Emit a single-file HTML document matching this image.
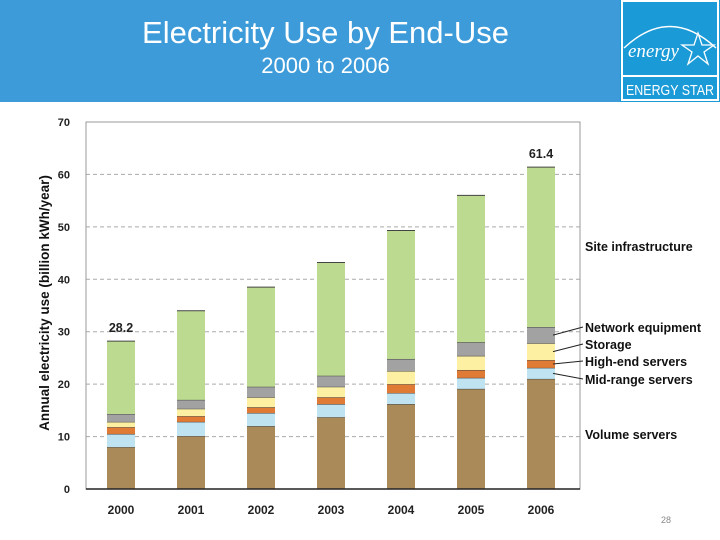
<!DOCTYPE html>
<html><head><meta charset="utf-8"><style>
body{margin:0;width:720px;height:540px;background:#fff;overflow:hidden;font-family:"Liberation Sans",sans-serif}
.hdr{position:absolute;left:0;top:0;width:720px;height:102px;background:#3d9bd9}
.t1{position:absolute;left:0;width:651px;text-align:center;color:#fff;white-space:nowrap}
</style></head><body>
<div class="hdr"></div>
<div class="t1" style="top:15px;font-size:31px">Electricity Use by End-Use</div>
<div class="t1" style="top:53px;font-size:22px">2000 to 2006</div>
<svg width="720" height="540" style="position:absolute;left:0;top:0" id="svg">
<g>
<rect x="620" y="0" width="100" height="102" fill="#1a9ad6"/>
<rect x="622" y="1" width="96" height="99" fill="none" stroke="#fff" stroke-width="2"/>
<path d="M624 48 Q670 5 716 48" fill="none" stroke="#fff" stroke-width="1.5"/>
<text x="628" y="57" font-family="Liberation Serif" font-style="italic" font-size="19" fill="#fff">energy</text>
<polygon points="698,33 702,45 714,45 704,52 708,64 698,56 688,64 692,52 682,45 694,45" fill="none" stroke="#fff" stroke-width="1.3"/>
<line x1="622" y1="76" x2="718" y2="76" stroke="#fff" stroke-width="2"/>
<text x="626" y="95" font-size="15" fill="#fff" textLength="88" lengthAdjust="spacingAndGlyphs">ENERGY STAR</text>
</g>
<g id="chart"></g>
<text x="661" y="523" font-size="9" fill="#888">28</text>
</svg>
<script>
const years=["2000","2001","2002","2003","2004","2005","2006"];
const volume=[8.0,10.1,12.0,13.7,16.2,19.1,21.0];
const midrange=[2.5,2.7,2.5,2.5,2.1,2.1,2.1];
const highend=[1.3,1.1,1.1,1.3,1.7,1.5,1.5];
const storage=[1.0,1.4,1.9,2.0,2.5,2.7,3.2];
const network=[1.5,1.7,2.0,2.1,2.3,2.6,3.1];
const site=[13.9,17.0,19.0,21.6,24.5,28.0,30.5];
const yTicks=[0,10,20,30,40,50,60,70];
const totalLabels=[{i:0,t:"28.2"},{i:6,t:"61.4"}];
const series=[
 {name:"volume-servers",data:volume,color:"#a98a58",label:"Volume servers"},
 {name:"mid-range-servers",data:midrange,color:"#bfe3f1",label:"Mid-range servers"},
 {name:"high-end-servers",data:highend,color:"#e07b36",label:"High-end servers"},
 {name:"storage",data:storage,color:"#fdf0a2",label:"Storage"},
 {name:"network-equipment",data:network,color:"#a2a2a2",label:"Network equipment"},
 {name:"site-infrastructure",data:site,color:"#bcdb91",label:"Site infrastructure"}];
const NS="http://www.w3.org/2000/svg";
const g=document.getElementById("chart");
const L=86,R=580,T=122,B=489;
const y=v=>B-(v/70)*(B-T);
const x=i=>121+i*70;
const BW=28;
function mk(tag,at,txt){const e=document.createElementNS(NS,tag);for(const k in at)e.setAttribute(k,at[k]);if(txt!=null)e.textContent=txt;g.appendChild(e);return e;}
yTicks.forEach(t=>{
 if(t>0&&t<70){const ln=mk("line",{x1:L,x2:R,y1:y(t),y2:y(t),stroke:"#aaa","stroke-dasharray":"4,3"});
 
 }
 const tx=mk("text",{x:70,y:y(t)+4,"text-anchor":"end","font-size":11,"font-weight":"bold",fill:"#222"},t);
 
 
});
const fr=mk("rect",{x:L,y:T,width:R-L,height:B-T,fill:"none",stroke:"#999"});


years.forEach((yr,i)=>{
 let acc=0;
 series.forEach(s=>{
  const v=s.data[i];
  const r=mk("rect",{x:x(i)-BW/2,y:y(acc+v),width:BW,height:y(acc)-y(acc+v),fill:s.color});
  
  
  acc+=v;
  const sl=mk("line",{x1:x(i)-BW/2,x2:x(i)+BW/2,y1:y(acc),y2:y(acc),stroke:"#444","stroke-width":1});
  
  
 });
 const xl=mk("text",{x:x(i),y:514,"text-anchor":"middle","font-size":12,"font-weight":"bold",fill:"#222"},yr);
 
 
});
totalLabels.forEach(o=>{
 let tot=series.reduce((a,s)=>a+s.data[o.i],0);
 const t=mk("text",{x:x(o.i),y:y(tot)-9,"text-anchor":"middle","font-size":12.5,"font-weight":"bold",fill:"#222"},o.t);
 
 
});
const ax=mk("line",{x1:L,x2:R,y1:B,y2:B,stroke:"#222","stroke-width":1.5});


const last=years.length-1;
const legY=[439,384,366,349,332,251];
let acc=0;
series.forEach((s,k)=>{
 const mid=y(acc+s.data[last]/2);acc+=s.data[last];
 const ly=legY[k];
 if(k>=1&&k<=4){const ln=mk("line",{x1:x(last)+BW/2-2,y1:mid,x2:583,y2:ly-5,stroke:"#222","stroke-width":1});
 
 }
 const t=mk("text",{x:585,y:ly,"font-size":12.5,"font-weight":"bold",fill:"#111"},s.label);
 
 
});
const yt=mk("text",{transform:"translate(49,303) rotate(-90)","text-anchor":"middle","font-size":13.5,"font-weight":"bold",fill:"#111"},"Annual electricity use (billion kWh/year)");


</script>
</body></html>
